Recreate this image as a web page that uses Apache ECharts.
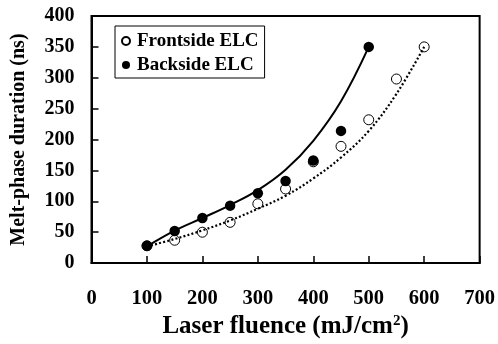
<!DOCTYPE html>
<html>
<head>
<meta charset="utf-8">
<script src="https://cdn.jsdelivr.net/npm/echarts@6/dist/echarts.min.js"></script>
<style>
html,body{margin:0;padding:0;background:#fff;}
#chart{width:498px;height:344px;}
</style>
</head>
<body>
<div id="chart"></div>
<script>
// measured points
var frontX = [100, 150, 200, 250, 300, 350, 400, 450, 500, 550, 600];
var frontY = [28, 37, 50, 66, 96, 120, 164, 189, 232, 298, 350];
var backX = [100, 150, 200, 250, 300, 350, 400, 450, 500];
var backY = [28, 52, 73, 93, 113, 133, 166, 214, 350];
// trend curves
var backFitX = [100, 150, 200, 250, 300, 350, 400, 450, 500];
var backFitY = [27, 52.5, 73, 94, 118, 151, 198, 262, 350];
var frontFitX = [100, 150, 200, 250, 300, 350, 400, 450, 500, 550, 600];
var frontFitY = [27, 39, 53, 69, 88, 109, 137, 171, 214, 274, 350];

var font = 'Liberation Serif';

function pairs(xs, ys) {
    return xs.map(function (x, i) { return [x, ys[i]]; });
}

var option = {
    animation: false,
    grid: {
        left: 91.5, right: 18, top: 16, bottom: 77,
        show: true, borderColor: '#000', borderWidth: 2
    },
    legend: {
        data: ['Frontside ELC', 'Backside ELC'],
        orient: 'vertical',
        left: 115, top: 26,
        padding: [5, 6, 3, 6],
        itemGap: 4,
        itemWidth: 8, itemHeight: 8,
        borderColor: '#000', borderWidth: 1,
        textStyle: {fontFamily: font, fontWeight: 'bold', fontSize: 19, lineHeight: 20, color: '#000', padding: [0, 0, 0, 2]}
    },
    xAxis: {
        type: 'value', min: 0, max: 700, interval: 100,
        name: 'Laser fluence (mJ/cm{sup|2})',
        nameLocation: 'middle', nameGap: 40,
        nameTextStyle: {
            fontFamily: font, fontWeight: 'bold', fontSize: 25, color: '#000',
            rich: {sup: {fontFamily: font, fontWeight: 'bold', fontSize: 15, color: '#000', verticalAlign: 'top', padding: [0, 0, 9, 0]}}
        },
        axisLine: {lineStyle: {color: '#000', width: 2}},
        axisTick: {inside: true, length: 7, lineStyle: {color: '#000', width: 1.5}},
        axisLabel: {fontFamily: font, fontWeight: 'bold', fontSize: 20.5, color: '#000', margin: 25},
        splitLine: {show: false}
    },
    yAxis: {
        type: 'value', min: 0, max: 400, interval: 50,
        name: 'Melt-phase duration (ns)',
        nameLocation: 'middle', nameGap: 63,
        nameTextStyle: {fontFamily: font, fontWeight: 'bold', fontSize: 20, color: '#000'},
        axisLine: {lineStyle: {color: '#000', width: 2}},
        axisTick: {inside: true, length: 7, lineStyle: {color: '#000', width: 1.5}},
        axisLabel: {fontFamily: font, fontWeight: 'bold', fontSize: 20, color: '#000', margin: 17},
        splitLine: {show: false}
    },
    series: [
        {
            name: 'front fit', type: 'line', smooth: 0.4, showSymbol: false, silent: true,
            data: pairs(frontFitX, frontFitY),
            lineStyle: {color: '#000', width: 2.2, type: [2, 2.2]}
        },
        {
            name: 'back fit', type: 'line', smooth: 0.4, showSymbol: false, silent: true,
            data: pairs(backFitX, backFitY),
            lineStyle: {color: '#000', width: 2}
        },
        {
            name: 'Frontside ELC', type: 'scatter', symbol: 'circle', symbolSize: 10,
            data: pairs(frontX, frontY),
            itemStyle: {color: '#fff', borderColor: '#000', borderWidth: 1, opacity: 1}
        },
        {
            name: 'Backside ELC', type: 'scatter', symbol: 'circle', symbolSize: 10.5,
            data: pairs(backX, backY),
            itemStyle: {color: '#000', opacity: 1}
        }
    ]
};

var chart = echarts.init(document.getElementById('chart'));
chart.setOption(option);
</script>
</body>
</html>
